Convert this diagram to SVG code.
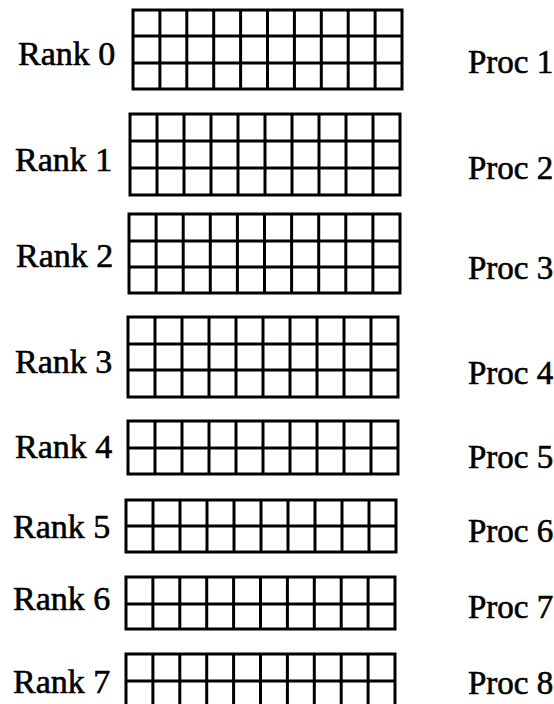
<svg xmlns="http://www.w3.org/2000/svg" width="554" height="704" viewBox="0 0 554 704">
<style>
.g{fill:none;stroke:#000;stroke-width:3;stroke-linejoin:miter}
.t{font-family:"Liberation Serif","Times New Roman",serif;font-size:33px;fill:#000;stroke:#000;stroke-width:0.6}
.r{font-size:34px}
</style>
<rect width="554" height="704" fill="#fff"/>
<g id="rank0">
<text class="t r" x="18" y="65">Rank 0</text>
<path class="g" d="M133 10H402V89H133Z M133 36H402 M133 63H402 M159.9 10V89 M186.8 10V89 M213.7 10V89 M240.6 10V89 M267.5 10V89 M294.4 10V89 M321.3 10V89 M348.2 10V89 M375.1 10V89"/>
</g>
<g id="rank1">
<text class="t r" x="15" y="171">Rank 1</text>
<path class="g" d="M130 114H400V195H130Z M130 141H400 M130 168H400 M157 114V195 M184 114V195 M211 114V195 M238 114V195 M265 114V195 M292 114V195 M319 114V195 M346 114V195 M373 114V195"/>
</g>
<g id="rank2">
<text class="t r" x="16" y="267">Rank 2</text>
<path class="g" d="M129 214H400V293H129Z M129 241H400 M129 267H400 M156.1 214V293 M183.2 214V293 M210.3 214V293 M237.4 214V293 M264.5 214V293 M291.6 214V293 M318.7 214V293 M345.8 214V293 M372.9 214V293"/>
</g>
<g id="rank3">
<text class="t r" x="15" y="373">Rank 3</text>
<path class="g" d="M128 317H398V397H128Z M128 344H398 M128 370H398 M155 317V397 M182 317V397 M209 317V397 M236 317V397 M263 317V397 M290 317V397 M317 317V397 M344 317V397 M371 317V397"/>
</g>
<g id="rank4">
<text class="t r" x="15" y="458">Rank 4</text>
<path class="g" d="M128 421H398V474H128Z M128 448H398 M155 421V474 M182 421V474 M209 421V474 M236 421V474 M263 421V474 M290 421V474 M317 421V474 M344 421V474 M371 421V474"/>
</g>
<g id="rank5">
<text class="t r" x="13" y="538">Rank 5</text>
<path class="g" d="M126 500H396V552H126Z M126 526H396 M153 500V552 M180 500V552 M207 500V552 M234 500V552 M261 500V552 M288 500V552 M315 500V552 M342 500V552 M369 500V552"/>
</g>
<g id="rank6">
<text class="t r" x="13" y="610">Rank 6</text>
<path class="g" d="M126 577H395V629H126Z M126 604H395 M152.9 577V629 M179.8 577V629 M206.7 577V629 M233.6 577V629 M260.5 577V629 M287.4 577V629 M314.3 577V629 M341.2 577V629 M368.1 577V629"/>
</g>
<g id="rank7">
<text class="t r" x="13" y="693">Rank 7</text>
<path class="g" d="M126 708V654H395V708 M126 681H395 M152.9 654V708 M179.8 654V708 M206.7 654V708 M233.6 654V708 M260.5 654V708 M287.4 654V708 M314.3 654V708 M341.2 654V708 M368.1 654V708"/>
</g>
<g id="proc1"><text class="t" x="468" y="73">Proc 1</text></g>
<g id="proc2"><text class="t" x="468" y="179">Proc 2</text></g>
<g id="proc3"><text class="t" x="468" y="279">Proc 3</text></g>
<g id="proc4"><text class="t" x="468" y="384">Proc 4</text></g>
<g id="proc5"><text class="t" x="468" y="468">Proc 5</text></g>
<g id="proc6"><text class="t" x="468" y="542">Proc 6</text></g>
<g id="proc7"><text class="t" x="468" y="618">Proc 7</text></g>
<g id="proc8"><text class="t" x="468" y="694">Proc 8</text></g>
<g id="connectors"/>
</svg>
